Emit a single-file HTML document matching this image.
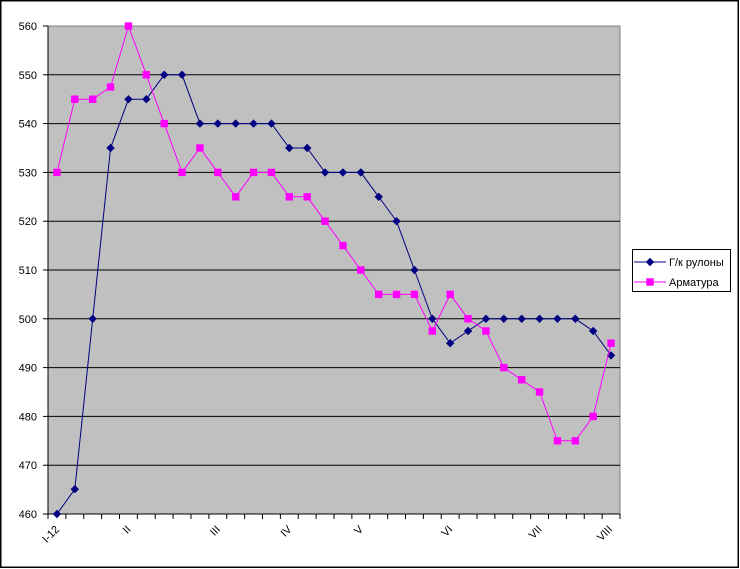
<!DOCTYPE html>
<html>
<head>
<meta charset="utf-8">
<style>
html,body{margin:0;padding:0;background:#fff;}
svg{display:block;}
text{font-family:"Liberation Sans","DejaVu Sans",sans-serif;fill:#000;}
</style>
</head>
<body>
<svg width="740" height="569" viewBox="0 0 740 569" xmlns="http://www.w3.org/2000/svg">
<defs>
<polygon id="dm" points="0,-4.2 4.2,0 0,4.2 -4.2,0" fill="#000080"/>
<rect id="sq" x="-3.7" y="-3.7" width="7.4" height="7.4" fill="#FF00FF"/>
</defs>
<rect x="0" y="0" width="740" height="569" fill="#fff"/>
<rect x="0.75" y="0.75" width="737.5" height="566.5" fill="none" stroke="#000" stroke-width="1.5"/>

<!-- plot area -->
<rect x="48" y="26" width="572" height="488" fill="#C0C0C0" stroke="#808080" stroke-width="1"/>

<!-- gridlines -->
<g stroke="#000" stroke-width="1">
<line x1="48" x2="620" y1="74.8" y2="74.8"/>
<line x1="48" x2="620" y1="123.6" y2="123.6"/>
<line x1="48" x2="620" y1="172.4" y2="172.4"/>
<line x1="48" x2="620" y1="221.2" y2="221.2"/>
<line x1="48" x2="620" y1="270" y2="270"/>
<line x1="48" x2="620" y1="318.8" y2="318.8"/>
<line x1="48" x2="620" y1="367.6" y2="367.6"/>
<line x1="48" x2="620" y1="416.4" y2="416.4"/>
<line x1="48" x2="620" y1="465.2" y2="465.2"/>
</g>

<!-- axes -->
<g stroke="#000" stroke-width="1">
<line x1="48" y1="26" x2="48" y2="514"/>
<line x1="48" y1="514" x2="620" y2="514"/>
<!-- y ticks -->
<line x1="43" x2="48" y1="26" y2="26"/>
<line x1="43" x2="48" y1="74.8" y2="74.8"/>
<line x1="43" x2="48" y1="123.6" y2="123.6"/>
<line x1="43" x2="48" y1="172.4" y2="172.4"/>
<line x1="43" x2="48" y1="221.2" y2="221.2"/>
<line x1="43" x2="48" y1="270" y2="270"/>
<line x1="43" x2="48" y1="318.8" y2="318.8"/>
<line x1="43" x2="48" y1="367.6" y2="367.6"/>
<line x1="43" x2="48" y1="416.4" y2="416.4"/>
<line x1="43" x2="48" y1="465.2" y2="465.2"/>
<line x1="43" x2="48" y1="514" y2="514"/>
</g>
<g stroke="#000" stroke-width="1">
<line x1="48" x2="48" y1="514" y2="519"/>
<line x1="65.88" x2="65.88" y1="514" y2="519"/>
<line x1="83.75" x2="83.75" y1="514" y2="519"/>
<line x1="101.63" x2="101.63" y1="514" y2="519"/>
<line x1="119.5" x2="119.5" y1="514" y2="519"/>
<line x1="137.38" x2="137.38" y1="514" y2="519"/>
<line x1="155.25" x2="155.25" y1="514" y2="519"/>
<line x1="173.13" x2="173.13" y1="514" y2="519"/>
<line x1="191" x2="191" y1="514" y2="519"/>
<line x1="208.88" x2="208.88" y1="514" y2="519"/>
<line x1="226.75" x2="226.75" y1="514" y2="519"/>
<line x1="244.63" x2="244.63" y1="514" y2="519"/>
<line x1="262.5" x2="262.5" y1="514" y2="519"/>
<line x1="280.38" x2="280.38" y1="514" y2="519"/>
<line x1="298.25" x2="298.25" y1="514" y2="519"/>
<line x1="316.13" x2="316.13" y1="514" y2="519"/>
<line x1="334" x2="334" y1="514" y2="519"/>
<line x1="351.88" x2="351.88" y1="514" y2="519"/>
<line x1="369.75" x2="369.75" y1="514" y2="519"/>
<line x1="387.63" x2="387.63" y1="514" y2="519"/>
<line x1="405.5" x2="405.5" y1="514" y2="519"/>
<line x1="423.38" x2="423.38" y1="514" y2="519"/>
<line x1="441.25" x2="441.25" y1="514" y2="519"/>
<line x1="459.13" x2="459.13" y1="514" y2="519"/>
<line x1="477" x2="477" y1="514" y2="519"/>
<line x1="494.88" x2="494.88" y1="514" y2="519"/>
<line x1="512.75" x2="512.75" y1="514" y2="519"/>
<line x1="530.63" x2="530.63" y1="514" y2="519"/>
<line x1="548.5" x2="548.5" y1="514" y2="519"/>
<line x1="566.38" x2="566.38" y1="514" y2="519"/>
<line x1="584.25" x2="584.25" y1="514" y2="519"/>
<line x1="602.13" x2="602.13" y1="514" y2="519"/>
<line x1="620" x2="620" y1="514" y2="519"/>
</g>

<!-- y labels -->
<g font-size="11" text-anchor="end">
<text x="37" y="30">560</text>
<text x="37" y="78.8">550</text>
<text x="37" y="127.6">540</text>
<text x="37" y="176.4">530</text>
<text x="37" y="225.2">520</text>
<text x="37" y="274">510</text>
<text x="37" y="322.8">500</text>
<text x="37" y="371.6">490</text>
<text x="37" y="420.4">480</text>
<text x="37" y="469.2">470</text>
<text x="37" y="518">460</text>
</g>

<!-- x labels -->
<g font-size="11" text-anchor="end">
<text transform="translate(60,530) rotate(-45)">I-12</text>
<text transform="translate(131.4,530) rotate(-45)">II</text>
<text transform="translate(220.8,530) rotate(-45)">III</text>
<text transform="translate(292.3,530) rotate(-45)">IV</text>
<text transform="translate(363.8,530) rotate(-45)">V</text>
<text transform="translate(453.2,530) rotate(-45)">VI</text>
<text transform="translate(542.6,530) rotate(-45)">VII</text>
<text transform="translate(613,530) rotate(-45)">VIII</text>
</g>

<!-- blue series -->
<polyline fill="none" stroke="#000080" stroke-width="1" points="56.94,514 74.81,489.2 92.69,318.8 110.56,148 128.44,99.2 146.31,99.2 164.19,74.8 182.06,74.8 199.94,123.6 217.81,123.6 235.69,123.6 253.56,123.6 271.44,123.6 289.31,148 307.19,148 325.06,172.4 342.94,172.4 360.81,172.4 378.69,196.8 396.56,221.2 414.44,270 432.31,318.8 450.19,343.2 468.06,331 485.94,318.8 503.81,318.8 521.69,318.8 539.56,318.8 557.44,318.8 575.31,318.8 593.19,331 611.06,355.4"/>
<g>
<use href="#dm" x="56.94" y="514"/>
<use href="#dm" x="74.81" y="489.2"/>
<use href="#dm" x="92.69" y="318.8"/>
<use href="#dm" x="110.56" y="148"/>
<use href="#dm" x="128.44" y="99.2"/>
<use href="#dm" x="146.31" y="99.2"/>
<use href="#dm" x="164.19" y="74.8"/>
<use href="#dm" x="182.06" y="74.8"/>
<use href="#dm" x="199.94" y="123.6"/>
<use href="#dm" x="217.81" y="123.6"/>
<use href="#dm" x="235.69" y="123.6"/>
<use href="#dm" x="253.56" y="123.6"/>
<use href="#dm" x="271.44" y="123.6"/>
<use href="#dm" x="289.31" y="148"/>
<use href="#dm" x="307.19" y="148"/>
<use href="#dm" x="325.06" y="172.4"/>
<use href="#dm" x="342.94" y="172.4"/>
<use href="#dm" x="360.81" y="172.4"/>
<use href="#dm" x="378.69" y="196.8"/>
<use href="#dm" x="396.56" y="221.2"/>
<use href="#dm" x="414.44" y="270"/>
<use href="#dm" x="432.31" y="318.8"/>
<use href="#dm" x="450.19" y="343.2"/>
<use href="#dm" x="468.06" y="331"/>
<use href="#dm" x="485.94" y="318.8"/>
<use href="#dm" x="503.81" y="318.8"/>
<use href="#dm" x="521.69" y="318.8"/>
<use href="#dm" x="539.56" y="318.8"/>
<use href="#dm" x="557.44" y="318.8"/>
<use href="#dm" x="575.31" y="318.8"/>
<use href="#dm" x="593.19" y="331"/>
<use href="#dm" x="611.06" y="355.4"/>
</g>

<!-- magenta series -->
<polyline fill="none" stroke="#FF00FF" stroke-width="1" points="56.94,172.4 74.81,99.2 92.69,99.2 110.56,87 128.44,26 146.31,74.8 164.19,123.6 182.06,172.4 199.94,148 217.81,172.4 235.69,196.8 253.56,172.4 271.44,172.4 289.31,196.8 307.19,196.8 325.06,221.2 342.94,245.6 360.81,270 378.69,294.4 396.56,294.4 414.44,294.4 432.31,331 450.19,294.4 468.06,318.8 485.94,331 503.81,367.6 521.69,379.8 539.56,392 557.44,440.8 575.31,440.8 593.19,416.4 611.06,343.2"/>
<g>
<use href="#sq" x="56.94" y="172.4"/>
<use href="#sq" x="74.81" y="99.2"/>
<use href="#sq" x="92.69" y="99.2"/>
<use href="#sq" x="110.56" y="87"/>
<use href="#sq" x="128.44" y="26"/>
<use href="#sq" x="146.31" y="74.8"/>
<use href="#sq" x="164.19" y="123.6"/>
<use href="#sq" x="182.06" y="172.4"/>
<use href="#sq" x="199.94" y="148"/>
<use href="#sq" x="217.81" y="172.4"/>
<use href="#sq" x="235.69" y="196.8"/>
<use href="#sq" x="253.56" y="172.4"/>
<use href="#sq" x="271.44" y="172.4"/>
<use href="#sq" x="289.31" y="196.8"/>
<use href="#sq" x="307.19" y="196.8"/>
<use href="#sq" x="325.06" y="221.2"/>
<use href="#sq" x="342.94" y="245.6"/>
<use href="#sq" x="360.81" y="270"/>
<use href="#sq" x="378.69" y="294.4"/>
<use href="#sq" x="396.56" y="294.4"/>
<use href="#sq" x="414.44" y="294.4"/>
<use href="#sq" x="432.31" y="331"/>
<use href="#sq" x="450.19" y="294.4"/>
<use href="#sq" x="468.06" y="318.8"/>
<use href="#sq" x="485.94" y="331"/>
<use href="#sq" x="503.81" y="367.6"/>
<use href="#sq" x="521.69" y="379.8"/>
<use href="#sq" x="539.56" y="392"/>
<use href="#sq" x="557.44" y="440.8"/>
<use href="#sq" x="575.31" y="440.8"/>
<use href="#sq" x="593.19" y="416.4"/>
<use href="#sq" x="611.06" y="343.2"/>
</g>

<!-- legend -->
<rect x="632.5" y="249.5" width="98" height="42" fill="#fff" stroke="#000" stroke-width="1"/>
<line x1="634" x2="666" y1="262" y2="262" stroke="#000080" stroke-width="1"/>
<use href="#dm" x="650" y="262"/>
<line x1="634" x2="666" y1="282" y2="282" stroke="#FF00FF" stroke-width="1"/>
<use href="#sq" x="650" y="282"/>
<g font-size="11">
<text x="669" y="266">Г/к рулоны</text>
<text x="669" y="286">Арматура</text>
</g>
</svg>
</body>
</html>
